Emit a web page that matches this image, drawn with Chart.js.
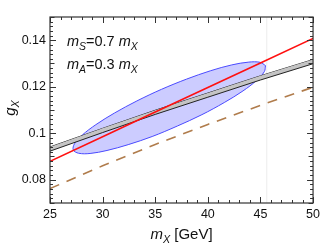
<!DOCTYPE html>
<html>
<head>
<meta charset="utf-8">
<script src="https://cdn.jsdelivr.net/npm/chart.js@4.4.1/dist/chart.umd.min.js"></script>
<style>
  html, body { margin: 0; padding: 0; background: #fff; }
  canvas { display: block; }
</style>
</head>
<body>
<canvas id="grafica" width="324" height="245"></canvas>
<script>
// valores
const mX = [25, 30, 35, 40, 45, 50];
const gRoja = [0.0879, 0.0985, 0.1091, 0.1197, 0.1302, 0.1408];
const gBandaInf = [0.0923, 0.1003, 0.1081, 0.1155, 0.1229, 0.1299];
const gBandaSup = [0.0941, 0.1021, 0.1099, 0.1173, 0.1247, 0.1317];
const gMarron = [0.0762, 0.0860, 0.0952, 0.1038, 0.1120, 0.1198];

const elipseX = [45.48, 44.98, 43.89, 42.28, 40.27, 37.99, 35.60, 33.26, 31.13, 29.36, 28.06, 27.33,
                 27.21, 27.72, 28.81, 30.42, 32.43, 34.71, 37.10, 39.44, 41.56, 43.34, 44.63, 45.37, 45.48];
const elipseY = [0.1291, 0.1305, 0.1306, 0.1294, 0.1269, 0.1233, 0.1189, 0.1139, 0.1087, 0.1037, 0.0992, 0.0955,
                 0.0928, 0.0914, 0.0913, 0.0926, 0.0951, 0.0986, 0.1031, 0.1080, 0.1132, 0.1182, 0.1227, 0.1265, 0.1291];

const mZmedio = 45.6;

const xTicks = [25, 30, 35, 40, 45, 50];
const yTicks = [0.08, 0.1, 0.12, 0.14];
const xMenor = 1;
const yMenor = 0.002;

const fuente = '"Liberation Sans", Arial, sans-serif';

function puntos(xs, ys) {
    return xs.map((x, i) => ({ x: x, y: ys[i] }));
}

// texto con subindices: partes = [[texto, cursiva, subindice], ...]
function textoSub(ctx, partes, x, y, tam) {
    let cx = x;
    partes.forEach(p => {
        const t = p[2] ? tam * 0.72 : tam;
        ctx.font = (p[1] ? 'italic ' : '') + t + 'px ' + fuente;
        ctx.fillText(p[0], cx, p[2] ? y + tam * 0.25 : y);
        cx += ctx.measureText(p[0]).width;
    });
    return cx - x;
}

function anchoSub(ctx, partes, tam) {
    let w = 0;
    partes.forEach(p => {
        const t = p[2] ? tam * 0.72 : tam;
        ctx.font = (p[1] ? 'italic ' : '') + t + 'px ' + fuente;
        w += ctx.measureText(p[0]).width;
    });
    return w;
}

const marco = {
    id: 'marco',
    afterDatasetsDraw(chart) {
        const { ctx, chartArea: a, scales: { x, y } } = chart;
        ctx.save();
        ctx.strokeStyle = '#333';
        ctx.lineWidth = 1;
        ctx.beginPath();
        for (let v = x.min; v <= x.max + 1e-9; v += xMenor) {
            const px = Math.round(x.getPixelForValue(v)) + 0.5;
            const largo = Math.abs(v % 5) < 1e-6 ? 6 : 3;
            ctx.moveTo(px, a.bottom); ctx.lineTo(px, a.bottom - largo);
            ctx.moveTo(px, a.top); ctx.lineTo(px, a.top + largo);
        }
        const n = Math.round((y.max - y.min) / yMenor);
        for (let i = 0; i <= n; i++) {
            const v = y.min + i * yMenor;
            const py = Math.round(y.getPixelForValue(v)) + 0.5;
            const k = Math.round(v * 1000);
            const largo = k % 20 === 0 ? 6 : (k % 10 === 0 ? 4.5 : 3);
            ctx.moveTo(a.left, py); ctx.lineTo(a.left + largo, py);
            ctx.moveTo(a.right, py); ctx.lineTo(a.right - largo, py);
        }
        ctx.stroke();
        ctx.lineWidth = 1.2;
        ctx.strokeRect(a.left, a.top, a.right - a.left, a.bottom - a.top);
        ctx.restore();
    },
    afterDraw(chart) {
        const { ctx, chartArea: a } = chart;
        ctx.save();
        ctx.fillStyle = '#111';
        ctx.textBaseline = 'alphabetic';
        // anotaciones
        textoSub(ctx, [['m', true, false], ['S', true, true], ['=0.7 ', false, false], ['m', true, false], ['X', true, true]],
            a.left + 17, a.top + 29, 14.5);
        textoSub(ctx, [['m', true, false], ['A', true, true], ['=0.3 ', false, false], ['m', true, false], ['X', true, true]],
            a.left + 17, a.top + 52, 14.5);
        // titulo eje x
        const tx = [['m', true, false], ['X', true, true], [' [GeV]', false, false]];
        const w = anchoSub(ctx, tx, 15);
        textoSub(ctx, tx, (a.left + a.right) / 2 - w / 2, 239, 15);
        // titulo eje y
        const ty = [['g', true, false], ['X', true, true]];
        const wy = anchoSub(ctx, ty, 15);
        ctx.translate(15, (a.top + a.bottom) / 2 - 2);
        ctx.rotate(-Math.PI / 2);
        textoSub(ctx, ty, -wy / 2, 0, 15);
        ctx.restore();
    }
};

new Chart(document.getElementById('grafica'), {
    type: 'line',
    data: {
        datasets: [
            {
                label: 'roja',
                data: puntos(mX, gRoja),
                borderColor: '#ff1010',
                borderWidth: 1.6,
                pointRadius: 0,
                fill: false,
                order: 1
            },
            {
                label: 'banda inferior',
                data: puntos(mX, gBandaInf),
                borderColor: '#222',
                borderWidth: 1,
                pointRadius: 0,
                backgroundColor: '#c4c4c4',
                fill: '+1',
                order: 2
            },
            {
                label: 'banda superior',
                data: puntos(mX, gBandaSup),
                borderColor: '#222',
                borderWidth: 1,
                pointRadius: 0,
                fill: false,
                order: 2
            },
            {
                label: 'marron',
                data: puntos(mX, gMarron),
                borderColor: '#b07c4c',
                borderWidth: 1.6,
                borderDash: [10, 8],
                pointRadius: 0,
                fill: false,
                order: 3
            },
            {
                label: 'elipse',
                data: puntos(elipseX, elipseY),
                borderColor: '#4a4aff',
                borderWidth: 1,
                backgroundColor: 'rgba(40, 40, 255, 0.24)',
                pointRadius: 0,
                tension: 0.35,
                fill: 'shape',
                order: 4
            },
            {
                label: 'mZ/2',
                data: [{ x: mZmedio, y: 0.07 }, { x: mZmedio, y: 0.15 }],
                borderColor: '#ececec',
                borderWidth: 1,
                pointRadius: 0,
                fill: false,
                order: 5
            }
        ]
    },
    options: {
        responsive: false,
        animation: false,
        devicePixelRatio: 1,
        layout: { padding: { top: 17, right: 8, left: 0, bottom: 0 } },
        plugins: {
            legend: { display: false },
            tooltip: { enabled: false }
        },
        scales: {
            x: {
                type: 'linear',
                min: 25,
                max: 50,
                grid: { display: false, drawTicks: false },
                border: { display: false },
                afterBuildTicks: s => { s.ticks = xTicks.map(v => ({ value: v })); },
                afterFit: s => { s.height = 42; },
                ticks: {
                    padding: 4,
                    color: '#111',
                    font: { family: fuente, size: 12.5 },
                    maxRotation: 0,
                    callback: v => String(v)
                }
            },
            y: {
                type: 'linear',
                min: 0.07,
                max: 0.15,
                grid: { display: false, drawTicks: false },
                border: { display: false },
                afterBuildTicks: s => { s.ticks = yTicks.map(v => ({ value: v })); },
                afterFit: s => { s.width = 50; },
                ticks: {
                    padding: 4,
                    color: '#111',
                    font: { family: fuente, size: 12.5 },
                    callback: v => String(v)
                }
            }
        }
    },
    plugins: [marco]
});
</script>
</body>
</html>
